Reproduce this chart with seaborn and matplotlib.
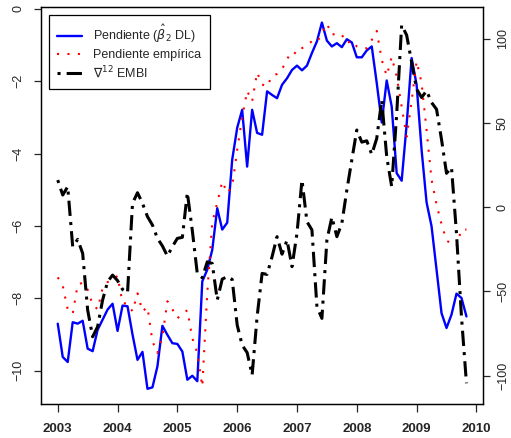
import numpy as np
import pandas as pd
import matplotlib
matplotlib.use("Agg")
import matplotlib.pyplot as plt
import seaborn as sns

# ---------------- data (monthly, Jan 2003 - Nov 2009) ----------------
start_month = "2003-01"
n_months = 83

pendiente_dl = [
    -8.70, -9.62, -9.76, -8.66, -8.70, -8.62, -9.39, -9.46, -8.87, -8.59,
    -8.31, -8.15, -8.90, -8.20, -8.22, -9.00, -9.70, -9.48, -10.50, -10.46,
    -9.88, -8.76, -9.01, -9.24, -9.26, -9.47, -10.25, -10.14, -10.29, -7.53,
    -7.21, -6.66, -5.51, -6.10, -5.91, -4.17, -3.29, -2.79, -4.36, -2.79,
    -3.43, -3.48, -2.28, -2.38, -2.47, -2.10, -1.92, -1.69, -1.57, -1.70,
    -1.57, -1.22, -0.90, -0.38, -0.88, -1.04, -0.95, -1.06, -0.84, -0.93,
    -1.34, -1.34, -1.15, -1.04, -2.05, -3.14, -1.98, -2.70, -4.54, -4.75,
    -3.20, -1.36, -2.10, -3.90, -5.35, -6.01, -7.21, -8.41, -8.82, -8.45,
    -7.87, -7.99, -8.50,
]

pendiente_emp = [
    -7.42, -7.65, -8.31, -8.43, -7.62, -7.57, -7.76, -8.18, -8.30, -7.72,
    -7.55, -7.49, -7.38, -8.13, -8.15, -8.36, -7.86, -8.36, -8.24, -9.19,
    -9.51, -9.05, -8.08, -8.30, -8.55, -8.43, -8.33, -9.10, -9.51, -10.44,
    -7.85, -5.91, -5.36, -4.77, -5.09, -4.91, -3.90, -3.00, -2.27, -2.56,
    -1.76, -2.09, -2.15, -1.85, -1.80, -1.67, -1.39, -1.18, -1.25, -1.09,
    -0.99, -0.90, -0.93, -0.67, -0.41, -0.72, -0.67, -0.72, -0.95, -0.88,
    -1.04, -1.09, -1.09, -0.86, -0.61, -1.41, -1.85, -1.33, -1.87, -2.70,
    -3.53, -2.55, -1.45, -2.05, -3.35, -4.72, -5.41, -5.95, -6.40, -6.50,
    -6.55, -6.10, -6.10,
]

embi_d12 = [
    16.0, 7.1, 12.1, -23.5, -19.2, -27.5, -61.1, -77.0, -71.0, -55.2,
    -44.3, -40.4, -43.7, -48.9, -50.9, 2.2, 8.5, 2.2, -5.7, -10.7,
    -18.6, -23.1, -29.1, -23.5, -18.6, -18.0, 8.5, -14.0, -39.6, -42.0,
    -32.5, -33.5, -55.2, -42.8, -41.3, -43.0, -70.0, -82.0, -86.4, -99.7,
    -65.0, -39.4, -40.0, -29.5, -17.6, -28.0, -19.6, -35.4, -15.6, 16.0,
    -8.7, -13.6, -59.2, -66.1, -19.6, -6.0, -17.6, -9.7, 10.0, 28.0,
    45.7, 38.5, 39.3, 31.2, 40.7, 63.5, 30.0, 12.1, 55.0, 108.0,
    102.0, 86.0, 70.0, 65.0, 69.0, 62.0, 58.0, 40.0, 20.0, 23.5,
    -15.6, -65.1, -104.6,
]

labels = [r"Pendiente ($\hat{\beta}_2$ DL)", "Pendiente empírica", r"$\nabla^{12}$ EMBI"]
x_ticks = [2003, 2004, 2005, 2006, 2007, 2008, 2009, 2010]
left_ticks = [0, -2, -4, -6, -8, -10]
right_ticks = [-100, -50, 0, 50, 100]

# ---------------- build table ----------------
dates = pd.date_range(start_month, periods=n_months, freq="MS")
df = pd.DataFrame({
    "t": dates.year + (dates.month - 1) / 12.0,
    "dl": pendiente_dl,
    "emp": pendiente_emp,
    "embi": embi_d12,
})

# ---------------- style ----------------
sns.set_style("ticks")
plt.rcParams["font.family"] = ["Liberation Sans", "DejaVu Sans"]
plt.rcParams["mathtext.fontset"] = "dejavusans"
plt.rcParams["axes.linewidth"] = 0.9

fig = plt.figure(figsize=(5.11, 4.38), dpi=100)
W, H = 511, 438
L, R, T, B = 41, 483, 7, 404
ax = fig.add_axes([L / W, 1 - B / H, (R - L) / W, (B - T) / H])

sns.lineplot(data=df, x="t", y="dl", ax=ax, color="#0000ff", lw=1.7,
             label=labels[0], sort=False)
sns.lineplot(data=df, x="t", y="emp", ax=ax, color="#ff0000", lw=1.5,
             label=labels[1], sort=False)
ax.lines[1].set_linestyle((0, (1, 4)))
ax.lines[1].set_dash_capstyle("butt")

ax2 = ax.twinx()
sns.lineplot(data=df, x="t", y="embi", ax=ax2, color="black", lw=2.2,
             label=labels[2], sort=False)
ax2.lines[0].set_linestyle((0, (1, 2, 5, 2)))

for a in (ax, ax2):
    lg = a.get_legend()
    if lg is not None:
        lg.remove()

ax.set_xlim(2002.72, 2010.11)
ax.set_ylim(-10.92, 0.05)
ax2.set_ylim(-116.9, 118.7)

ax.set_xticks(x_ticks)
ax.set_xticklabels([str(v) for v in x_ticks], fontweight="bold", fontsize=9.5)
ax.set_yticks(left_ticks)
ax2.set_yticks(right_ticks)
ax.set_xlabel("")
ax.set_ylabel("")
ax2.set_ylabel("")

ax.tick_params(axis="x", length=5.5, width=0.9, pad=8, labelsize=9.5)
ax.tick_params(axis="y", length=5, width=0.9, pad=7, labelsize=9, labelrotation=90)
ax2.tick_params(axis="y", length=5, width=0.9, pad=5, labelsize=9, labelrotation=90)
for lab in ax.get_yticklabels():
    lab.set_va("center")
for lab in ax2.get_yticklabels():
    lab.set_va("center")

for a in (ax, ax2):
    for s in a.spines.values():
        s.set_visible(True)
        s.set_color("black")

handles = [ax.lines[0], ax.lines[1], ax2.lines[0]]
leg = ax2.legend(handles, labels, loc="upper left",
                 bbox_to_anchor=((49 - L) / (R - L), 1 - (15 - T) / (B - T)),
                 fontsize=9, frameon=True, fancybox=False, framealpha=1,
                 edgecolor="black", handlelength=2.0, handletextpad=0.9,
                 labelspacing=0.3, borderpad=0.65, borderaxespad=0)
leg.get_frame().set_linewidth(0.9)

fig.savefig("out.png", dpi=100)
